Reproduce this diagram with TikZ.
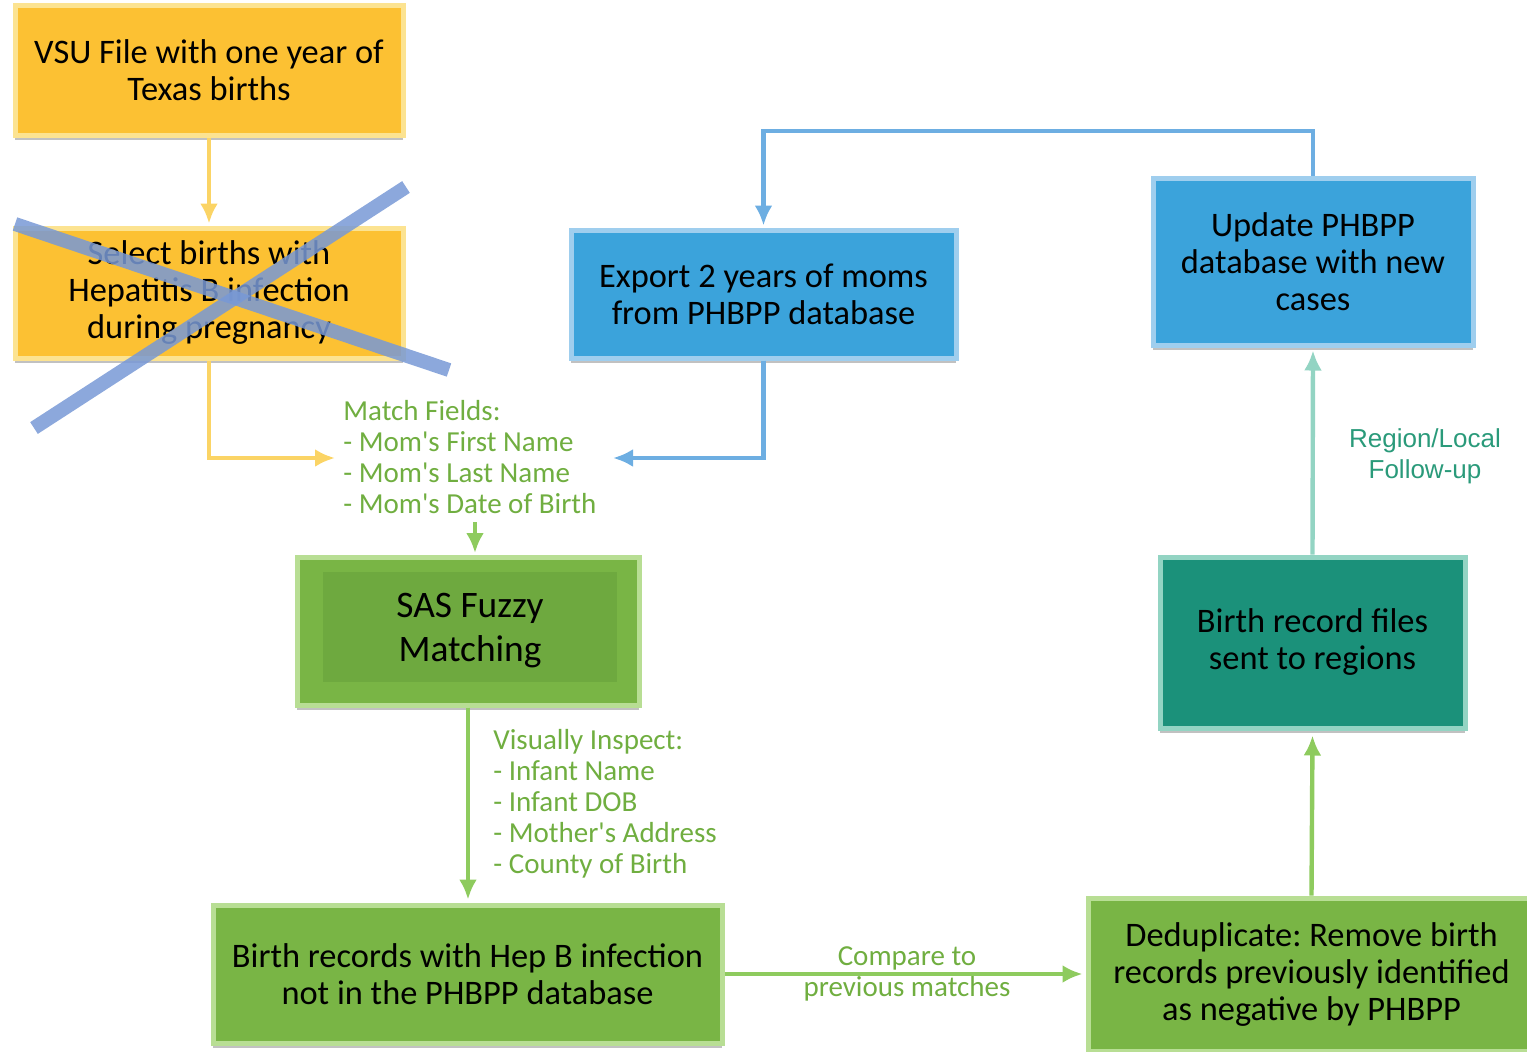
\documentclass[tikz,border=0pt]{standalone}
\usepackage{fontspec}
\setmainfont{Carlito}
\newfontfamily\arialf{Liberation Sans}
\usetikzlibrary{arrows.meta,shadows}
\definecolor{yfill}{HTML}{FCC133}
\definecolor{ybord}{HTML}{FCE391}
\definecolor{bfill}{HTML}{3BA3DB}
\definecolor{bbord}{HTML}{9FCEEE}
\definecolor{gfill}{HTML}{79B545}
\definecolor{gbord}{HTML}{B8DE94}
\definecolor{ginner}{HTML}{6EA93F}
\definecolor{tfill}{HTML}{1B917A}
\definecolor{tbord}{HTML}{93D4C3}
\definecolor{yarr}{HTML}{FBD465}
\definecolor{barr}{HTML}{6DAEE2}
\definecolor{garr}{HTML}{8ECB5E}
\definecolor{gtext}{HTML}{70AE40}
\definecolor{ttext}{HTML}{2A9A7A}
\definecolor{xcol}{HTML}{7899D6}
\newcommand{\aq}{\textquotesingle}
\frenchspacing
\tikzset{
  boxbase/.style={draw, line width=2.5pt, align=center, inner sep=2pt,
    font=\fontsize{17.2}{18.5}\selectfont,
    drop shadow={shadow xshift=0pt, shadow yshift=-2.5pt, opacity=0.35, fill=black!70}},
  ybox/.style={boxbase, fill=yfill, draw=ybord},
  bbox/.style={boxbase, fill=bfill, draw=bbord},
  gbox/.style={boxbase, fill=gfill, draw=gbord},
  tbox/.style={boxbase, fill=tfill, draw=tbord},
  conn/.style={line width=2.2pt, -{Latex[length=10pt,width=9pt]}},
  yarrow/.style={conn, draw=yarr},
  barrow/.style={conn, draw=barr},
  garrow/.style={conn, draw=garr},
  tarrow/.style={conn, draw=tbord},
  gnote/.style={text=gtext, align=left, inner xsep=4pt, font=\fontsize{14.5}{15.5}\selectfont},
  cross/.style={draw=xcol, line width=7pt, opacity=0.85}
}
\begin{document}
\begin{tikzpicture}[x=0.5pt,y=-0.5pt]
\useasboundingbox (0,0) rectangle (1527,1051);
% boxes
\node[ybox, minimum width=194pt, minimum height=65pt] (vsu) at (209,70) {VSU File with one year of\\Texas births};
\node[ybox, minimum width=194pt, minimum height=65pt] (select) at (209,293) {Select births with\\Hepatitis B infection\\during pregnancy};
\node[bbox, minimum width=192.5pt, minimum height=64pt] (export) at (763.5,294) {Export 2 years of moms\\from PHBPP database};
\node[bbox, minimum width=160pt, minimum height=83.5pt] (update) at (1313,261.5) {Update PHBPP\\database with new\\cases};
\node[gbox, minimum width=171pt, minimum height=74pt] (sas) at (468,631) {};
\node[fill=ginner, minimum width=147pt, minimum height=55pt, inner sep=0pt] (sasin) at (470,627) {};
\node[align=center, font=\fontsize{18.7}{22}\selectfont] (sastext) at (470,631) {SAS Fuzzy\\Matching};
\node[gbox, minimum width=254.5pt, minimum height=69pt] (birthrec) at (467.5,974) {Birth records with Hep B infection\\not in the PHBPP database};
\node[gbox, minimum width=223.5pt, minimum height=76.5pt] (dedup) at (1311.5,974.5) {Deduplicate: Remove birth\\records previously identified\\as negative by PHBPP};
\node[tbox, minimum width=152.5pt, minimum height=85.5pt] (brf) at (1312.5,642.5) {Birth record files\\sent to regions};
% notes
\node[gnote, anchor=west] (match) at (335,457) {Match Fields:\\- Mom\aq s First Name\\- Mom\aq s Last Name\\- Mom\aq s Date of Birth};
\node[gnote, anchor=west] (inspect) at (485,804) {Visually Inspect:\\- Infant Name\\- Infant DOB\\- Mother\aq s Address\\- County of Birth};
\node[text=gtext, align=center, font=\fontsize{14.5}{15.5}\selectfont] (compare) at (907,974) {Compare to\\previous matches};
\node[text=ttext, align=center, font=\arialf\fontsize{13}{15.5}\selectfont] (region) at (1425,456) {Region/Local\\Follow-up};
% free ends
\coordinate (ml) at (335,458);
\coordinate (mr) at (613,458);
\coordinate (mtop) at (475,522);
\coordinate (sastop) at (475,553);
\coordinate (route) at (1313,131);
% connectors
\draw[yarrow] (vsu.south) -- ([yshift=1pt]select.north);
\draw[yarrow] (select.south) |- (ml);
\draw[barrow] (export.south) |- (mr);
\draw[barrow] (update.north) -- (route) -| ([yshift=1pt]export.north);
\draw[garrow] (mtop) -- (sastop);
\draw[garrow] (sas.south) -- ([yshift=1.5pt]sas.south |- birthrec.north);
\draw[garrow] (birthrec.east) -- ([xshift=-1.5pt]birthrec.east -| dedup.west);
\draw[garrow] (dedup.north) -- ([yshift=-2.5pt]brf.south);
\draw[tarrow] (brf.north) -- ([yshift=-1.5pt]update.south);
% cross
\draw[cross] (15,224) -- (449,370);
\draw[cross] (34,428) -- (406,187);
\end{tikzpicture}
\end{document}
